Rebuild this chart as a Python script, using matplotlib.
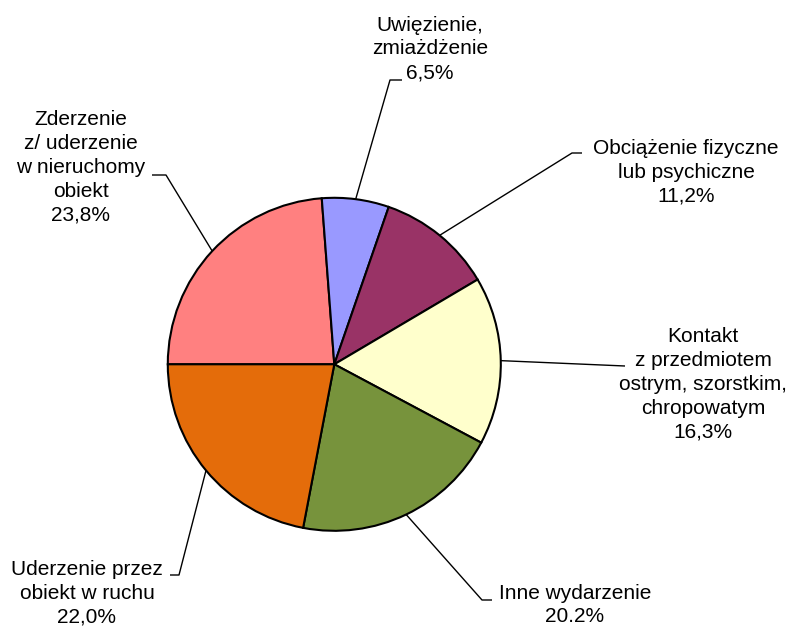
import numpy as np
import matplotlib
matplotlib.use("Agg")
import matplotlib.pyplot as plt

plt.rcParams['font.family'] = ['Liberation Sans', 'DejaVu Sans']

# Data (clockwise from 9 o'clock)
categories = ["Zderzenie\nz/ uderzenie\nw nieruchomy\nobiekt",
              "Uwięzienie,\nzmiażdżenie",
              "Obciążenie fizyczne\nlub psychiczne",
              "Kontakt\nz przedmiotem\nostrym, szorstkim,\nchropowatym",
              "Inne wydarzenie",
              "Uderzenie przez\nobiekt w ruchu"]
values = [23.8, 6.5, 11.2, 16.3, 20.2, 22.0]
value_labels = ["23,8%", "6,5%", "11,2%", "16,3%", "20.2%", "22,0%"]
colors = ["#FF8080", "#9999FF", "#993366", "#FFFFCC", "#77933C", "#E46C0A"]

W, H = 792, 626
fig = plt.figure(figsize=(W / 100, H / 100), dpi=100)
ax = fig.add_axes([0, 0, 1, 1])
ax.set_xlim(0, W)
ax.set_ylim(0, H)
ax.set_aspect('equal')
ax.axis('off')

cx, cy, r = 334.3, H - 364.3, 166.5
wedges, _ = ax.pie(values, colors=colors, startangle=180, counterclock=False,
                   center=(cx, cy), radius=r, frame=True,
                   wedgeprops=dict(edgecolor='black', linewidth=1.5))
ax.set_xlim(0, W)
ax.set_ylim(0, H)
ax.axis('off')

# label layout: (text center x, text center y, elbow point, end point) in pixel coords from top
layout = [
    (81, 167.5, (166, 175), (152, 175)),
    (430, 49, (390, 80), (402, 80)),
    (686, 172.5, (572, 153), (582, 153)),
    (703, 384.5, None, (625, 366)),
    (575, 605, (482, 600), (492, 600)),
    (87, 593.5, (179, 575), (170, 575)),
]

for w, cat, lab, (tx, ty, elbow, end) in zip(wedges, categories, value_labels, layout):
    mid = np.deg2rad((w.theta1 + w.theta2) / 2)
    sx, sy = cx + r * np.cos(mid), cy + r * np.sin(mid)
    pts = [(sx, sy)]
    if elbow is not None:
        pts.append((elbow[0], H - elbow[1]))
    pts.append((end[0], H - end[1]))
    xs, ys = zip(*pts)
    ax.plot(xs, ys, color='black', linewidth=1.0, solid_capstyle='butt', zorder=0)
    ax.text(tx, H - ty, cat + "\n" + lab, ha='center', va='center',
            multialignment='center', fontsize=15.0, color='black', linespacing=1.32)

fig.savefig("out.png", dpi=100)
